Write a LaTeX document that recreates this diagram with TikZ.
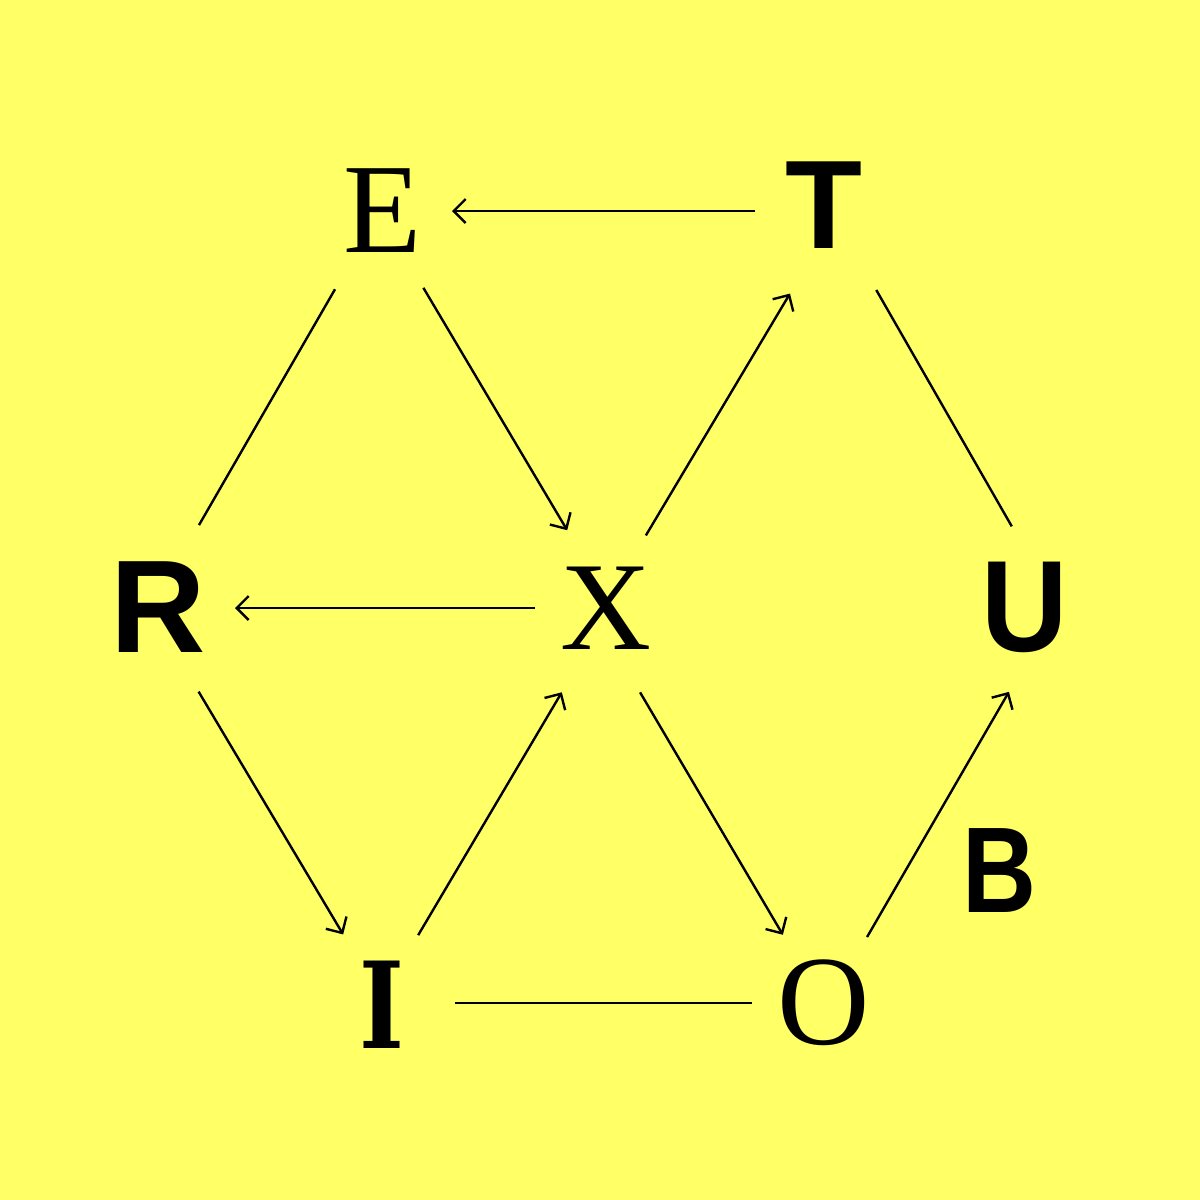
\documentclass[tikz,border=0pt]{standalone}
\usepackage{fontspec}
\usepackage{graphicx}
\usetikzlibrary{arrows.meta,calc}
\setmainfont{Liberation Serif}
\newfontfamily\timesfam{Liberation Serif}
\newfontfamily\sansfam{Liberation Sans}
\newfontfamily\slabfam{DejaVu Serif}
\definecolor{bgyellow}{RGB}{255,255,102}
\begin{document}
\begin{tikzpicture}[x=0.5pt,y=-0.5pt,
  letter/.style={inner sep=0pt, outer sep=0pt, anchor=center},
  conn/.style={line width=1.2pt, black},
  arr/.style={-{Straight Barb[length=6pt,width=12pt,line width=1.2pt]}}
]
\fill[bgyellow] (0,0) rectangle (1200,1200);
\useasboundingbox (0,0) rectangle (1200,1200);

\node[letter] (E) at (383,211) {\timesfam\fontsize{64}{64}\selectfont E};
\node[letter] (T) at (824,205) {\sansfam\bfseries\fontsize{63}{63}\selectfont T};
\node[letter] (R) at (158,607) {\sansfam\bfseries\fontsize{66}{66}\selectfont R};
\node[letter] (X) at (606,608) {\timesfam\fontsize{63}{63}\selectfont X};
\node[letter] (U) at (1025,607) {\scalebox{0.92}[1]{\sansfam\bfseries\fontsize{65}{65}\selectfont U}};
\node[letter] (I) at (382,1005) {\scalebox{0.8}[1]{\slabfam\bfseries\fontsize{60}{60}\selectfont I}};
\node[letter] (O) at (824,1003) {\timesfam\fontsize{64}{64}\selectfont O};
\node[letter] (B) at (999,871) {\scalebox{0.84}[1]{\sansfam\bfseries\fontsize{61}{61}\selectfont B}};

% convergence points of the connectors, derived from the letters
\coordinate (Eh) at ($(E.center)+(-4,2)$);
\coordinate (Th) at ($(T.center)+(11,13)$);
\coordinate (Rh) at ($(R.center)+(-8,3)$);
\coordinate (Xu) at ($(X.center)+(2,-9)$);
\coordinate (Xl) at ($(X.center)+(-5,18)$);
\coordinate (Uh) at ($(U.center)+(33,0)$);
\coordinate (Ih) at ($(I.center)+(-1,-7)$);
\coordinate (Oh) at ($(O.center)+(2,5)$);

% horizontal connectors
\draw[conn,arr,shorten <=34.5pt,shorten >=34.5pt] (T.center |- E.center) -- (E.center);
\draw[conn,arr,shorten <=35.5pt,shorten >=38.5pt] (X.center) -- (X.center -| R.center);
\draw[conn,shorten <=36.5pt,shorten >=36pt] (I.center |- O.center) -- (O.center);

% diagonal connectors
\draw[conn,shorten <=44pt,shorten >=49pt] (Eh) -- (Rh);
\draw[conn,arr,shorten <=43.5pt,shorten >=40pt] (Eh) -- (Xu);
\draw[conn,arr,shorten <=37pt,shorten >=44pt] (Xu) -- (Th);
\draw[conn,shorten <=41.5pt,shorten >=46.5pt] (Th) -- (Uh);
\draw[conn,arr,shorten <=47.5pt,shorten >=37pt] (Rh) -- (Ih);
\draw[conn,arr,shorten <=36.5pt,shorten >=38.5pt] (Ih) -- (Xl);
\draw[conn,arr,shorten <=38.5pt,shorten >=42.5pt] (Xl) -- (Oh);
\draw[conn,arr,shorten <=41pt,shorten >=49pt] (Oh) -- (Uh);
\end{tikzpicture}
\end{document}
